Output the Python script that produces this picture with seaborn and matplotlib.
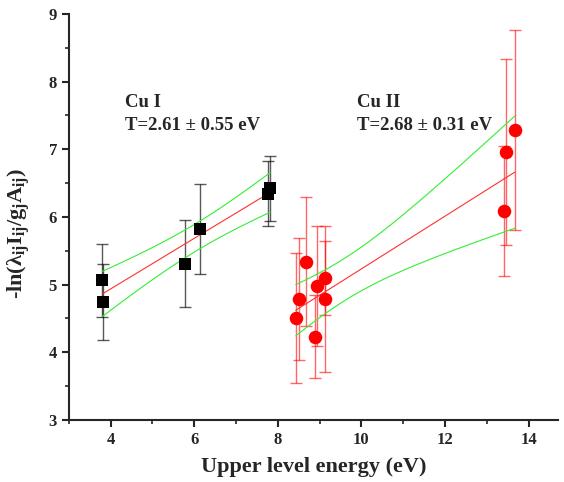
import numpy as np
import pandas as pd
import matplotlib
matplotlib.use("Agg")
import matplotlib.pyplot as plt
import seaborn as sns
from matplotlib.ticker import MultipleLocator

# Cu I lines
cu1_energy = [3.80, 3.82, 5.79, 6.13, 7.76, 7.82]
cu1_value = [5.06, 4.74, 5.31, 5.82, 6.34, 6.42]
cu1_err = [0.54, 0.56, 0.64, 0.67, 0.48, 0.48]

# Cu II lines
cu2_energy = [8.67, 8.51, 8.43, 8.94, 8.88, 9.13, 9.12, 13.45, 13.41, 13.67]
cu2_value = [5.34, 4.79, 4.51, 4.98, 4.23, 5.10, 4.79, 6.96, 6.09, 7.29]
cu2_err = [0.96, 0.90, 0.96, 0.89, 0.61, 0.55, 1.08, 1.38, 0.96, 1.48]

labels = ["Cu I", "Cu II"]
temps = ["T=2.61 \u00b1 0.55 eV", "T=2.68 \u00b1 0.31 eV"]
t_975 = {4: 2.776, 8: 2.306}

sns.set_style("ticks")
plt.rcParams['font.family'] = ['Liberation Serif', 'DejaVu Serif']
plt.rcParams['font.weight'] = 'bold'
plt.rcParams['mathtext.fontset'] = 'custom'
plt.rcParams['mathtext.rm'] = 'Liberation Serif:bold'
plt.rcParams['mathtext.it'] = 'Liberation Serif:bold'
plt.rcParams['mathtext.bf'] = 'Liberation Serif:bold'


def fit_band(x, y, err):
    # weighted linear fit with 95% confidence band
    x = np.asarray(x); y = np.asarray(y); w = 1 / np.asarray(err) ** 2
    xw = np.sum(w * x) / np.sum(w)
    yw = np.sum(w * y) / np.sum(w)
    sxx = np.sum(w * (x - xw) ** 2)
    slope = np.sum(w * (x - xw) * (y - yw)) / sxx
    icpt = yw - slope * xw
    n = len(x)
    s2 = np.sum(w * (y - icpt - slope * x) ** 2) / (n - 2)
    xs = np.linspace(x.min(), x.max(), 40)
    yhat = icpt + slope * xs
    half = t_975[n - 2] * np.sqrt(s2 * (1 / np.sum(w) + (xs - xw) ** 2 / sxx))
    return pd.DataFrame({'x': xs, 'fit': yhat, 'lo': yhat - half, 'hi': yhat + half})


fig = plt.figure(figsize=(5.64, 4.82), dpi=100)
ax = fig.add_axes([0.122, 0.129, 0.867, 0.842])

groups = [
    (cu1_energy, cu1_value, cu1_err, 'black', 0.65),
    (cu2_energy, cu2_value, cu2_err, 'red', 0.6),
]
for x, y, e, col, a in groups:
    ax.errorbar(x, y, yerr=e, fmt='none', ecolor=col, elinewidth=1.0,
                capsize=4, capthick=1.0, alpha=a, zorder=1)
    band = fit_band(x, y, e)
    sns.lineplot(data=band, x='x', y='fit', color='#ff3030', lw=0.8, ax=ax, zorder=2)
    sns.lineplot(data=band, x='x', y='hi', color='#33ee33', lw=0.8, ax=ax, zorder=2)
    sns.lineplot(data=band, x='x', y='lo', color='#33ee33', lw=0.8, ax=ax, zorder=2)

df1 = pd.DataFrame({'x': cu1_energy, 'y': cu1_value})
df2 = pd.DataFrame({'x': cu2_energy, 'y': cu2_value})
sns.scatterplot(data=df1, x='x', y='y', marker='s', color='black', s=70,
                edgecolor='black', linewidth=0, ax=ax, zorder=3)
sns.scatterplot(data=df2, x='x', y='y', marker='o', color='red', s=95,
                edgecolor='red', linewidth=0, ax=ax, zorder=3)

ax.text(4.34, 7.69, labels[0], fontsize=13.5, fontweight='bold', va='center')
ax.text(4.34, 7.35, temps[0], fontsize=13.5, fontweight='bold', va='center')
ax.text(9.90, 7.69, labels[1], fontsize=13.5, fontweight='bold', va='center')
ax.text(9.90, 7.35, temps[1], fontsize=13.5, fontweight='bold', va='center')

ax.set_xlim(3, 14.7)
ax.set_ylim(3, 9)
ax.xaxis.set_major_locator(MultipleLocator(2))
ax.xaxis.set_minor_locator(MultipleLocator(1))
ax.yaxis.set_major_locator(MultipleLocator(1))
ax.yaxis.set_minor_locator(MultipleLocator(0.5))
ax.set_xticks([4, 6, 8, 10, 12, 14])
ax.tick_params(which='major', length=5, width=1.5, labelsize=12)
ax.tick_params(which='minor', length=3, width=1.2)
for lab in ax.get_xticklabels() + ax.get_yticklabels():
    lab.set_fontweight('bold')
for sp in ['left', 'bottom']:
    ax.spines[sp].set_linewidth(1.5)
sns.despine(ax=ax)

ax.set_xlabel('Upper level energy (eV)', fontsize=16, fontweight='bold', labelpad=7)
ax.set_ylabel(r'-ln($\lambda_{ij}$I$_{ij}$/g$_{j}$A$_{ij}$)', fontsize=16,
              fontweight='bold')
ax.yaxis.set_label_coords(-0.075, 0.46)

fig.savefig('out.png', dpi=100)
